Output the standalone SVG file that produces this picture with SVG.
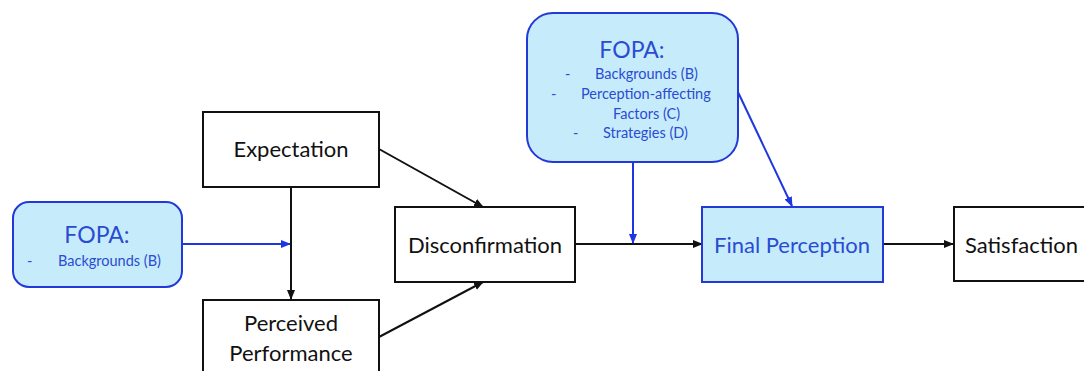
<svg xmlns="http://www.w3.org/2000/svg" width="1084" height="371" viewBox="0 0 1084 371">
<style>
.box{fill:#ffffff;stroke:#111111;stroke-width:2}
.fopa{fill:#c6ecfb;stroke:#2238d8;stroke-width:2}
.lbl{font-family:Lato,"Liberation Sans",sans-serif;font-size:22px;fill:#111111;text-anchor:middle}
.blbl{font-family:Lato,"Liberation Sans",sans-serif;font-size:22px;fill:#2a4bd2;text-anchor:middle}
.hd{font-size:23px}
.sm{font-family:Lato,"Liberation Sans",sans-serif;font-size:14.5px;fill:#2a4bd2}
.k{stroke:#111111;stroke-width:2;fill:none}
.b{stroke:#1d36e0;stroke-width:2;fill:none}
</style>
<defs>
<marker id="ak" viewBox="0 0 10 10" refX="9" refY="5" markerWidth="5" markerHeight="5" orient="auto" markerUnits="strokeWidth"><path d="M0,1 L10,5 L0,9 z" fill="#111111"/></marker>
<marker id="ab" viewBox="0 0 10 10" refX="9" refY="5" markerWidth="5" markerHeight="5" orient="auto" markerUnits="strokeWidth"><path d="M0,1 L10,5 L0,9 z" fill="#1d36e0"/></marker>
</defs>
<g id="connectors">
<line class="b" x1="182" y1="244" x2="290" y2="244" marker-end="url(#ab)"/>
<line class="k" x1="291" y1="187" x2="291" y2="299" marker-end="url(#ak)"/>
<line class="k" x1="379" y1="149" x2="483" y2="207" marker-end="url(#ak)"/>
<line class="k" x1="379" y1="337" x2="483" y2="282" marker-end="url(#ak)"/>
<line class="k" x1="575" y1="244" x2="702" y2="244" marker-end="url(#ak)"/>
<line class="b" x1="633" y1="162" x2="633" y2="243" marker-end="url(#ab)"/>
<line class="b" x1="737" y1="90" x2="792" y2="206" marker-end="url(#ab)"/>
<line class="k" x1="883" y1="244" x2="953" y2="244" marker-end="url(#ak)"/>
</g>
<g id="fopa-left">
<rect class="fopa" x="13" y="202" width="169" height="85" rx="16"/>
<text class="blbl hd" x="97" y="243">FOPA:</text>
<text class="sm" x="27" y="266">-</text>
<text class="sm" x="58" y="266">Backgrounds (B)</text>
</g>
<g id="expectation">
<rect class="box" x="203" y="112" width="176" height="75"/>
<text class="lbl" x="291" y="157">Expectation</text>
</g>
<g id="perceived-performance">
<rect class="box" x="203" y="300" width="176" height="80"/>
<text class="lbl" x="291" y="331">Perceived</text>
<text class="lbl" x="291" y="361">Performance</text>
</g>
<g id="disconfirmation">
<rect class="box" x="395" y="207" width="180" height="75"/>
<text class="lbl" x="485" y="253">Disconfirmation</text>
</g>
<g id="fopa-top">
<rect class="fopa" x="527" y="13" width="211" height="149" rx="26"/>
<text class="blbl hd" x="632" y="58">FOPA:</text>
<text class="sm" x="565" y="79">-</text>
<text class="sm" x="595" y="79">Backgrounds (B)</text>
<text class="sm" x="551" y="99">-</text>
<text class="sm" x="581" y="99">Perception-affecting</text>
<text class="sm" x="613" y="119">Factors (C)</text>
<text class="sm" x="573" y="138">-</text>
<text class="sm" x="603" y="138">Strategies (D)</text>
</g>
<g id="final-perception">
<rect class="fopa" x="702" y="207" width="181" height="75"/>
<text class="blbl" x="792" y="253">Final Perception</text>
</g>
<g id="satisfaction">
<rect class="box" x="954" y="207" width="140" height="74"/>
<text class="lbl" x="965" y="253" style="text-anchor:start">Satisfaction</text>
</g>
</svg>
